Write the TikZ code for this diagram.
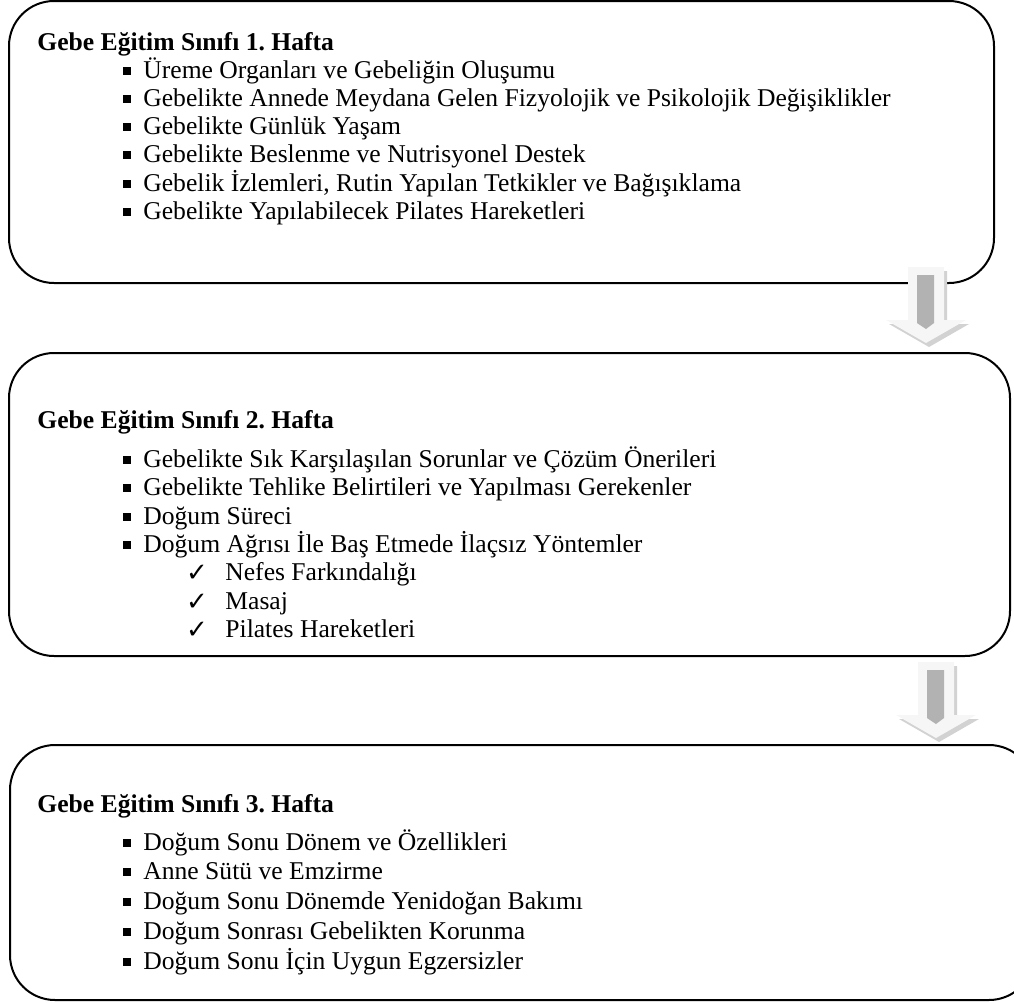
\documentclass[tikz,border=0pt]{standalone}
\usepackage{fontspec}
\setmainfont{Liberation Serif}
\newfontfamily\symfont{DejaVu Sans}
\frenchspacing
\begin{document}
\begin{tikzpicture}[x=0.5pt,y=-0.5pt,line join=round,line cap=round,font=\fontsize{12.8pt}{15pt}\selectfont,
	kutu/.style={line width=1pt,rounded corners=22.5pt},
	baslik/.style={anchor=base west,inner sep=0pt,font=\fontsize{12.8pt}{15pt}\selectfont\bfseries},
	madde/.style={anchor=base west,inner sep=0pt},
	kare/.style={fill,inner sep=0pt,minimum size=4pt},
	tik/.style={inner sep=0pt,font=\symfont\fontsize{13pt}{15pt}\selectfont}]
	\useasboundingbox (0,0) rectangle (1014,1003);
	\clip (0,0) rectangle (1014,1003);
	% kutular
	\draw[kutu] (9,1) rectangle (994,283);
	\draw[kutu] (9,353) rectangle (1010,656);
	\draw[kutu] (10,745) rectangle (1034,1000);
	% oklar
	\foreach \ax/\ay in {926/267,936/662}{
		\begin{scope}[shift={(\ax,\ay)}]
			\fill[gray!35] (-15,4)--(21,4)--(21,57)--(43,57)--(3,80)--(-37,57)--(-15,57)--cycle;
			\fill[gray!7] (-18,0)--(18,0)--(18,53)--(40,53)--(0,76)--(-40,53)--(-18,53)--cycle;
			\fill[gray!60] (-9,8)--(8,8)--(8,56)--(0,62)--(-9,56)--cycle;
		\end{scope}}
	% 1. hafta
	\node[baslik] (b1) at (37,50) {Gebe Eğitim Sınıfı 1. Hafta};
	\foreach \yy/\metin [count=\i] in {78/Üreme Organları ve Gebeliğin Oluşumu,
		106/Gebelikte Annede Meydana Gelen Fizyolojik ve Psikolojik Değişiklikler,
		134/Gebelikte Günlük Yaşam,
		162/Gebelikte Beslenme ve Nutrisyonel Destek,
		191/{Gebelik İzlemleri, Rutin Yapılan Tetkikler ve Bağışıklama},
		219/Gebelikte Yapılabilecek Pilates Hareketleri}{
		\node[kare] (k1-\i) at (127,\yy-7) {};
		\node[madde] (m1-\i) at (143,\yy) {\metin};
	}
	% 2. hafta
	\node[baslik] (b2) at (37,428) {Gebe Eğitim Sınıfı 2. Hafta};
	\foreach \yy/\metin [count=\i] in {467/Gebelikte Sık Karşılaşılan Sorunlar ve Çözüm Önerileri,
		495/Gebelikte Tehlike Belirtileri ve Yapılması Gerekenler,
		524/Doğum Süreci,
		552/Doğum Ağrısı İle Baş Etmede İlaçsız Yöntemler}{
		\node[kare] (k2-\i) at (127,\yy-7) {};
		\node[madde] (m2-\i) at (143,\yy) {\metin};
	}
	\foreach \yy/\metin [count=\i] in {580/Nefes Farkındalığı,609/Masaj,637/Pilates Hareketleri}{
		\node[tik] (t2-\i) at (197,\yy-7) {✓};
		\node[madde] (n2-\i) at (225,\yy) {\metin};
	}
	% 3. hafta
	\node[baslik] (b3) at (37,812) {Gebe Eğitim Sınıfı 3. Hafta};
	\foreach \yy/\metin [count=\i] in {850/Doğum Sonu Dönem ve Özellikleri,
		879/Anne Sütü ve Emzirme,
		909/Doğum Sonu Dönemde Yenidoğan Bakımı,
		939/Doğum Sonrası Gebelikten Korunma,
		969/Doğum Sonu İçin Uygun Egzersizler}{
		\node[kare] (k3-\i) at (127,\yy-7) {};
		\node[madde] (m3-\i) at (143,\yy) {\metin};
	}
\end{tikzpicture}
\end{document}
